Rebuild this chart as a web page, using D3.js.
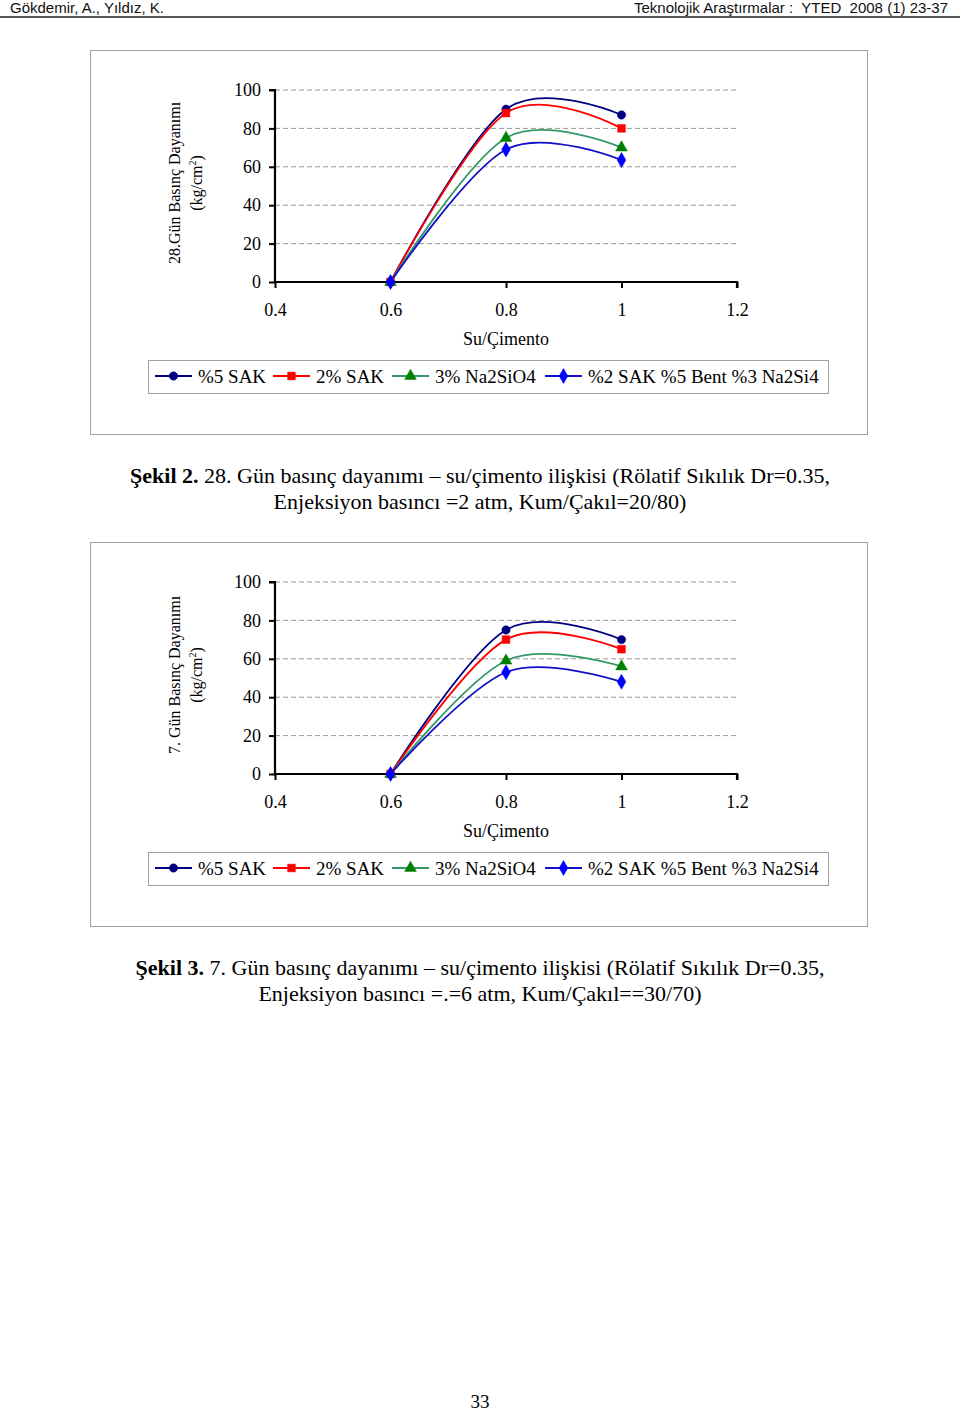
<!DOCTYPE html>
<html><head><meta charset="utf-8">
<script src="https://cdn.jsdelivr.net/npm/d3@7"></script>
<style>body{margin:0;background:#fff}svg{display:block}</style>
</head><body>
<script>
// ---- data ----
const xValues = [0.6, 0.8, 1.0];
const xTicks = [0.4, 0.6, 0.8, 1, 1.2];
const yTicks = [0, 20, 40, 60, 80, 100];
const seriesNames = ["%5 SAK", "2% SAK", "3% Na2SiO4", "%2 SAK %5 Bent %3 Na2Si4"];
// Chart 1: 28 day strength
const day28_sak5 = [0, 90, 87];
const day28_sak2 = [0, 88, 80];
const day28_na2sio4 = [0, 75, 70];
const day28_mix = [0, 69, 63.5];
// Chart 2: 7 day strength
const day7_sak5 = [0, 75, 70];
const day7_sak2 = [0, 70, 65];
const day7_na2sio4 = [0, 59, 56];
const day7_mix = [0, 53, 48];

const styles = [
  {line: "#000080", fill: "#000080", shape: "circle"},
  {line: "#ff0000", fill: "#ff0000", shape: "square"},
  {line: "#339966", fill: "#008000", shape: "triangle"},
  {line: "#1010c8", fill: "#0000ff", shape: "diamond"}
];

const svg = d3.select("body").append("svg").attr("width", 960).attr("height", 1412);
svg.append("rect").attr("width", 960).attr("height", 1412).attr("fill", "#fff");

// header
const sans = "Liberation Sans Narrow, Arial Narrow, Liberation Sans, sans-serif";
svg.append("text").attr("x", 10).attr("y", 13).attr("font-family", sans)
  .attr("font-size", 15).attr("fill", "#111").text("Gökdemir, A., Yıldız, K.");
svg.append("text").attr("x", 948).attr("y", 13).attr("text-anchor", "end").attr("font-family", sans)
  .attr("font-size", 15).attr("fill", "#111").attr("xml:space", "preserve")
  .text("Teknolojik Araştırmalar :  YTED  2008 (1) 23-37");
svg.append("line").attr("x1", 0).attr("x2", 960).attr("y1", 17).attr("y2", 17).attr("stroke", "#555").attr("stroke-width", 2);

const serif = "Liberation Serif, Times New Roman, serif";

function symbolPath(shape) {
  const t = {circle: d3.symbolCircle, square: d3.symbolSquare, triangle: d3.symbolTriangle, diamond: d3.symbolDiamond}[shape];
  const size = {circle: 55, square: 60, triangle: 60, diamond: 65}[shape];
  return d3.symbol().type(t).size(size)();
}

function drawChart(top, titleLine1, data) {
  const box = {x: 90, y: top, w: 777, h: 384};
  const g = svg.append("g");
  g.append("rect").attr("x", box.x + 0.5).attr("y", box.y + 0.5).attr("width", box.w).attr("height", box.h)
    .attr("fill", "#fff").attr("stroke", "#a0a0a0").attr("stroke-width", 1);

  const x = d3.scaleLinear().domain([0.4, 1.2]).range([275, 737]);
  const y = d3.scaleLinear().domain([0, 100]).range([top + 232, top + 40]);

  // gridlines
  g.append("g").selectAll("line").data(yTicks.filter(d => d > 0)).join("line")
    .attr("x1", x(0.4)).attr("x2", x(1.2)).attr("y1", d => y(d)).attr("y2", d => y(d))
    .attr("stroke", "#999").attr("stroke-width", 1).attr("stroke-dasharray", "5,3");

  // axes
  const yAxis = g.append("g").attr("transform", `translate(${x(0.4)},0)`)
    .call(d3.axisLeft(y).tickValues(yTicks).tickSize(6).tickPadding(8).tickFormat(d3.format("d")));
  const xAxis = g.append("g").attr("transform", `translate(0,${y(0)})`)
    .call(d3.axisBottom(x).tickValues(xTicks).tickSize(6).tickPadding(15).tickFormat(d => String(d)));
  [yAxis, xAxis].forEach(a => {
    a.select(".domain").attr("stroke", "#000").attr("stroke-width", 2.2);
    a.selectAll(".tick line").attr("stroke", "#000").attr("stroke-width", 2);
    a.selectAll(".tick text").attr("font-family", serif).attr("font-size", 18).attr("fill", "#000");
  });
  yAxis.select(".domain").attr("d", `M-6,${y(100)}H0V${y(0)}`);
  xAxis.select(".domain").attr("d", `M${x(0.4)},0H${x(1.2)}V6`);

  // axis titles
  g.append("text").attr("x", x(0.8)).attr("y", top + 295).attr("text-anchor", "middle")
    .attr("font-family", serif).attr("font-size", 18).text("Su/Çimento");
  const cy = top + 133;
  g.append("text").attr("transform", `translate(180,${cy}) rotate(-90)`).attr("text-anchor", "middle")
    .attr("font-family", serif).attr("font-size", 16).text(titleLine1);
  const t2 = g.append("text").attr("transform", `translate(202,${cy}) rotate(-90)`).attr("text-anchor", "middle")
    .attr("font-family", serif).attr("font-size", 16);
  t2.append("tspan").text("(kg/cm");
  t2.append("tspan").attr("font-size", 10).attr("dy", -6).text("2");
  t2.append("tspan").attr("dy", 6).text(")");

  // series
  const line = d3.line().x((d, i) => x(xValues[i])).y(d => y(d)).curve(d3.curveCardinal.tension(0));
  data.forEach((vals, si) => {
    const st = styles[si];
    g.append("path").attr("d", line(vals)).attr("fill", "none").attr("stroke", st.line).attr("stroke-width", 1.8);
  });
  data.forEach((vals, si) => {
    const st = styles[si];
    g.append("g").selectAll("path").data(vals).join("path")
      .attr("transform", (d, i) => `translate(${x(xValues[i])},${y(d)})`)
      .attr("d", symbolPath(st.shape)).attr("fill", st.fill).attr("stroke", st.fill).attr("stroke-width", 0.5);
  });

  // legend
  const lg = g.append("g");
  lg.append("rect").attr("x", 148.5).attr("y", top + 310.5).attr("width", 680).attr("height", 33)
    .attr("fill", "#fff").attr("stroke", "#a0a0a0");
  const legX = [155, 273, 392, 545];
  const ly = top + 326;
  seriesNames.forEach((name, si) => {
    const st = styles[si];
    lg.append("line").attr("x1", legX[si]).attr("x2", legX[si] + 37).attr("y1", ly).attr("y2", ly)
      .attr("stroke", st.line).attr("stroke-width", 1.8);
    lg.append("path").attr("transform", `translate(${legX[si] + 18.5},${ly})`).attr("d", symbolPath(st.shape))
      .attr("fill", st.fill).attr("stroke", st.fill).attr("stroke-width", 0.5);
    lg.append("text").attr("x", legX[si] + 43).attr("y", ly + 7).attr("font-family", serif).attr("font-size", 19)
      .text(name);
  });
}

function caption(yc, boldPart, rest, line2) {
  const t = svg.append("text").attr("x", 480).attr("y", yc).attr("text-anchor", "middle")
    .attr("font-family", serif).attr("font-size", 22);
  t.append("tspan").attr("font-weight", "bold").text(boldPart);
  t.append("tspan").text(rest);
  svg.append("text").attr("x", 480).attr("y", yc + 26).attr("text-anchor", "middle")
    .attr("font-family", serif).attr("font-size", 22).text(line2);
}

drawChart(50, "28.Gün Basınç Dayanımı", [day28_sak5, day28_sak2, day28_na2sio4, day28_mix]);
caption(483, "Şekil 2.", " 28. Gün basınç dayanımı – su/çimento ilişkisi (Rölatif Sıkılık Dr=0.35,", "Enjeksiyon basıncı =2 atm, Kum/Çakıl=20/80)");
drawChart(542, "7. Gün Basınç Dayanımı", [day7_sak5, day7_sak2, day7_na2sio4, day7_mix]);
caption(975, "Şekil 3.", " 7. Gün basınç dayanımı – su/çimento ilişkisi (Rölatif Sıkılık Dr=0.35,", "Enjeksiyon basıncı =.=6 atm, Kum/Çakıl==30/70)");

svg.append("text").attr("x", 480).attr("y", 1408).attr("text-anchor", "middle")
  .attr("font-family", serif).attr("font-size", 19).text("33");
</script>
</body></html>
